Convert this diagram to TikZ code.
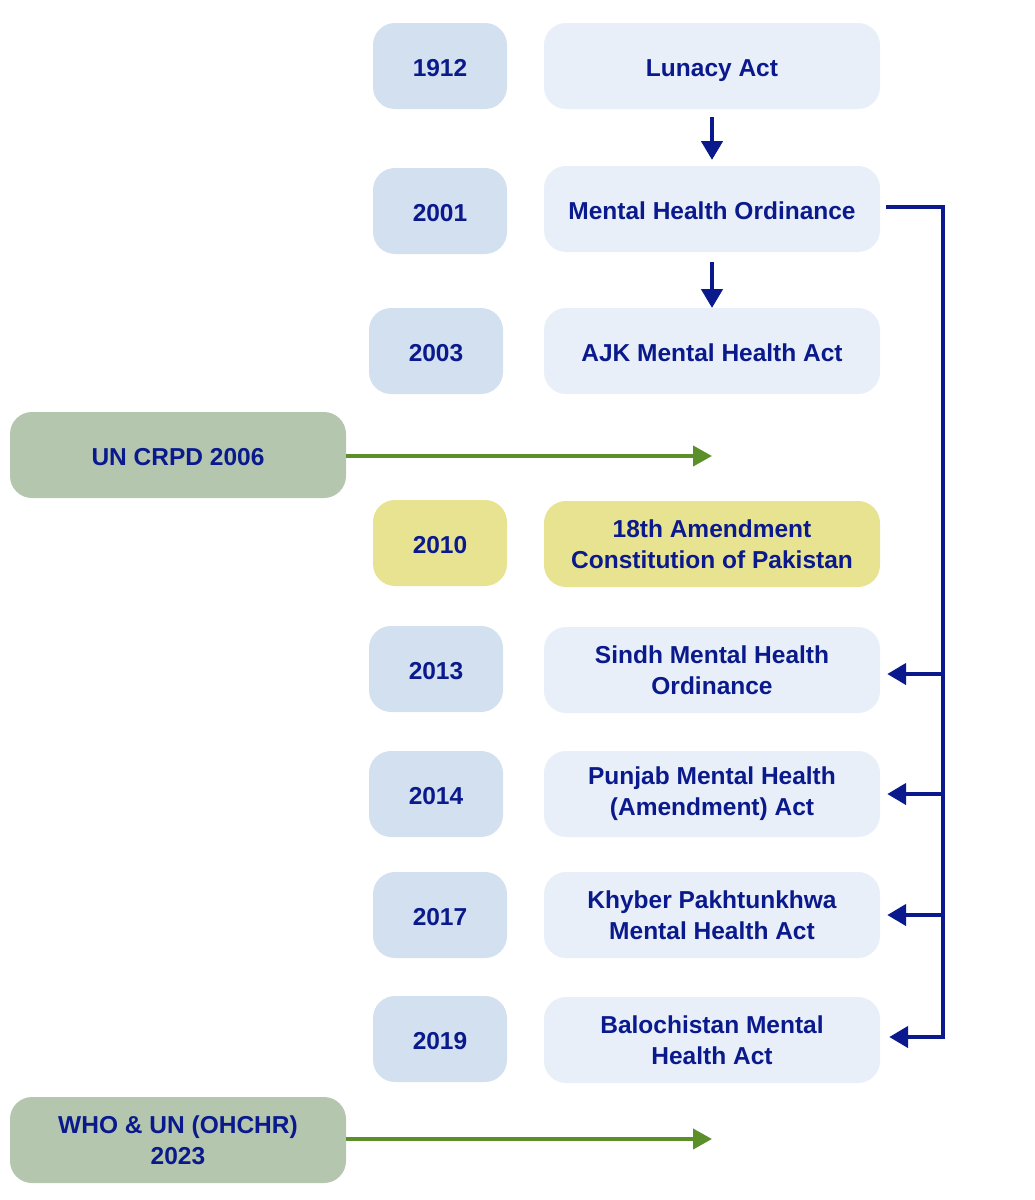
\documentclass[tikz,border=0pt]{standalone}
\usepackage{fontspec}
\setmainfont{Liberation Sans}
\usetikzlibrary{arrows.meta}
\definecolor{txtblue}{HTML}{0A1A8C}
\definecolor{yearfill}{HTML}{D3E0EF}
\definecolor{mainfill}{HTML}{E8EFF8}
\definecolor{yellowfill}{HTML}{E8E391}
\definecolor{greenfill}{HTML}{B5C6AE}
\definecolor{greenline}{HTML}{5A8F2A}
\tikzset{
  base/.style={rounded corners=22pt, minimum height=86pt, align=center, text=txtblue,
    font=\fontsize{24.5}{31}\selectfont\bfseries, inner sep=0pt},
  oneline/.style={text height=22pt, text depth=1pt},
  yearbox/.style={base, oneline, fill=yearfill, minimum width=134pt},
  mainbox/.style={base, fill=mainfill, minimum width=336pt},
  yellowyear/.style={base, oneline, fill=yellowfill, minimum width=134pt},
  yellowmain/.style={base, fill=yellowfill, minimum width=336pt},
  greenbox/.style={base, fill=greenfill, minimum width=336pt},
  bluearrow/.style={draw=txtblue, line width=4.5pt, -{Triangle[length=19pt,width=21pt]}},
  blueline/.style={draw=txtblue, line width=4.5pt},
  greenarrow/.style={draw=greenline, line width=4pt, -{Triangle[length=19pt,width=20pt]}}
}
\begin{document}
\begin{tikzpicture}[x=1pt,y=-1pt]
\useasboundingbox (0,0) rectangle (1034,1200);
% years
\node[yearbox] (y1912) at (440,66) {1912};
\node[yearbox] (y2001) at (440,211) {2001};
\node[yearbox] (y2003) at (436,351) {2003};
\node[yellowyear] (y2010) at (440,543) {2010};
\node[yearbox] (y2013) at (436,669) {2013};
\node[yearbox] (y2014) at (436,794) {2014};
\node[yearbox] (y2017) at (440,915) {2017};
\node[yearbox] (y2019) at (440,1039) {2019};
% main
\node[mainbox, oneline] (lunacy) at (712,66) {Lunacy Act};
\node[mainbox, oneline] (mho) at (712,209) {Mental Health Ordinance};
\node[mainbox, oneline] (ajk) at (712,351) {AJK Mental Health Act};
\node[yellowmain] (amend) at (712,544) {18th Amendment\\Constitution of Pakistan};
\node[mainbox] (sindh) at (712,670) {Sindh Mental Health\\Ordinance};
\node[mainbox] (punjab) at (712,794) {Punjab Mental Health\\(Amendment) Act};
\node[mainbox] (kp) at (712,915) {Khyber Pakhtunkhwa\\Mental Health Act};
\node[mainbox] (balo) at (712,1040) {Balochistan Mental\\Health Act};
% green
\node[greenbox, oneline] (crpd) at (178,455) {UN CRPD 2006};
\node[greenbox] (who) at (178,1140) {WHO \& UN (OHCHR)\\2023};
% coordinates
\coordinate (crpdend) at (712,456);
\coordinate (whoend) at (712,1139);
\coordinate (bt) at (943,207);
\coordinate (bb) at (943,1037);
% arrows
\draw[bluearrow] ([yshift=-8pt]lunacy.south) -- ([yshift=-8pt]lunacy.south |- 0,152);
\draw[bluearrow] ([yshift=-10pt]mho.south) -- ([yshift=-10pt]mho.south |- 0,298);
\draw[greenarrow] (crpd.east |- crpdend) -- (crpdend);
\draw[greenarrow] (who.east |- whoend) -- (whoend);
\draw[blueline] ([xshift=6pt]mho.east |- bt) -- (bt) -- (bb);
\draw[bluearrow] (bt |- 0,674) -- ([xshift=7pt]sindh.east |- 0,674);
\draw[bluearrow] (bt |- 0,794) -- ([xshift=7pt]punjab.east |- 0,794);
\draw[bluearrow] (bt |- 0,915) -- ([xshift=7pt]kp.east |- 0,915);
\draw[bluearrow] ([xshift=2pt]bb) -- ([xshift=9pt]balo.east |- bb);
\end{tikzpicture}
\end{document}
